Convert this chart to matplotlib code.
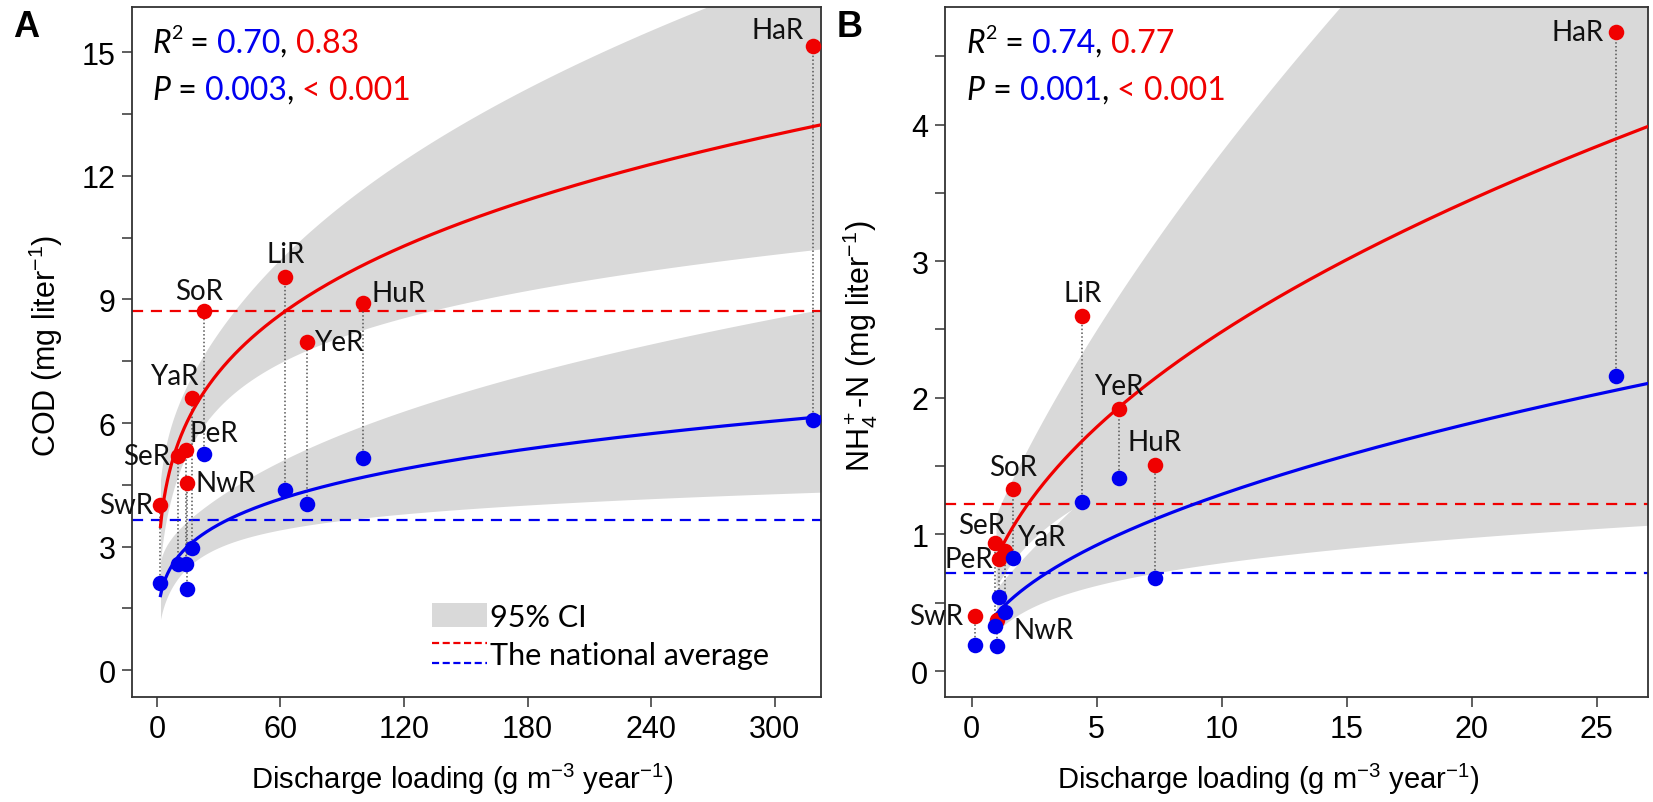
import numpy as np
import matplotlib
matplotlib.use('Agg')
import matplotlib.pyplot as plt
from matplotlib.transforms import offset_copy
from matplotlib.legend_handler import HandlerBase
from matplotlib.lines import Line2D
from matplotlib.patches import Patch

plt.rcParams['font.family'] = ['Liberation Sans', 'DejaVu Sans']
plt.rcParams['mathtext.fontset'] = 'custom'
plt.rcParams['mathtext.rm'] = 'Liberation Sans'
plt.rcParams['mathtext.it'] = 'Liberation Sans:italic'

# rivers, same order in both panels
rivers = ['SwR', 'SeR', 'PeR', 'NwR', 'YaR', 'SoR', 'LiR', 'YeR', 'HuR', 'HaR']

# panel A: COD
cod_x = [1.7, 10.2, 14.2, 14.6, 16.8, 23.0, 62.3, 72.7, 100.3, 318.6]
cod_red = [4.02, 5.19, 5.35, 4.54, 6.62, 8.71, 9.55, 7.96, 8.91, 15.15]
cod_blue = [2.11, 2.57, 2.57, 1.98, 2.97, 5.24, 4.38, 4.04, 5.16, 6.07]
cod_avg_red = 8.71
cod_avg_blue = 3.64

# panel B: NH4-N
nh_x = [0.12, 0.92, 1.08, 1.03, 1.32, 1.65, 4.43, 5.90, 7.33, 25.76]
nh_red = [0.40, 0.94, 0.82, 0.37, 0.88, 1.33, 2.60, 1.92, 1.51, 4.68]
nh_blue = [0.19, 0.33, 0.54, 0.18, 0.43, 0.83, 1.24, 1.41, 0.68, 2.16]
nh_avg_red = 1.22
nh_avg_blue = 0.72

stats_A = [('0.70', '0.83'), ('0.003', '< 0.001')]
stats_B = [('0.74', '0.77'), ('0.001', '< 0.001')]

T_CRIT = 2.306  # t(0.975, df=8)
RED = '#f00000'
BLUE = '#0000f0'
GREY = '#d9d9d9'
LABEL_FONT = 'Lato'

# label placement: (dx px, dy px, ha, va)
pos_A = {'SwR': (-7, 0, 'right', 'center'), 'SeR': (-8, 0, 'right', 'center'),
         'PeR': (3, 9, 'left', 'baseline'), 'NwR': (8, 0, 'left', 'center'),
         'YaR': (-17, 14, 'center', 'baseline'), 'SoR': (-5, 12, 'center', 'baseline'),
         'LiR': (0, 15, 'center', 'baseline'), 'YeR': (7, 0, 'left', 'center'),
         'HuR': (8, 10, 'left', 'center'), 'HaR': (-9, 8, 'right', 'baseline')}
pos_B = {'SwR': (-11, 0, 'right', 'center'), 'SeR': (-13, 10, 'center', 'baseline'),
         'PeR': (-5, 0, 'right', 'center'), 'NwR': (16, -10, 'left', 'center'),
         'YaR': (13, 14, 'left', 'center'), 'SoR': (0, 14, 'center', 'baseline'),
         'LiR': (0, 15, 'center', 'baseline'), 'YeR': (0, 15, 'center', 'baseline'),
         'HuR': (0, 15, 'center', 'baseline'), 'HaR': (-12, 0, 'right', 'center')}


def power_fit(x, y, xg):
    lx, ly = np.log(x), np.log(y)
    n = len(lx)
    b, a = np.polyfit(lx, ly, 1)
    res = ly - (a + b * lx)
    s = np.sqrt(np.sum(res ** 2) / (n - 2))
    sxx = np.sum((lx - lx.mean()) ** 2)
    lg = np.log(xg)
    se = s * np.sqrt(1 / n + (lg - lx.mean()) ** 2 / sxx)
    fit = a + b * lg
    return np.exp(fit), np.exp(fit - T_CRIT * se), np.exp(fit + T_CRIT * se)


def text_width(ax, s, r, **kw):
    t = ax.text(0, 0, '|' + s + '|', **kw)
    w1 = t.get_window_extent(r).width
    t.set_text('||')
    w0 = t.get_window_extent(r).width
    t.remove()
    return w1 - w0


def rich_text(ax, x, y, parts, size):
    r = ax.figure.canvas.get_renderer()
    dx = 0
    for s, c, style, rise, scale in parts:
        kw = dict(fontsize=size * scale, fontfamily=LABEL_FONT, fontstyle=style, color=c)
        tr = offset_copy(ax.transAxes, x=dx, y=rise, units='dots')
        ax.text(x, y, s, transform=tr, va='baseline', ha='left', **kw)
        dx += text_width(ax, s, r, **kw)


def stat_lines(ax, x, stats):
    (r_b, r_r), (p_b, p_r) = stats
    rich_text(ax, x, 0.935, [('R', 'black', 'italic', 0, 1), ('2', 'black', 'normal', 14, 0.62),
                              (' = ', 'black', 'normal', 0, 1), (r_b, BLUE, 'normal', 0, 1),
                              (', ', 'black', 'normal', 0, 1), (r_r, RED, 'normal', 0, 1)], 23)
    rich_text(ax, x, 0.867, [('P', 'black', 'italic', 0, 1), (' = ', 'black', 'normal', 0, 1),
                              (p_b, BLUE, 'normal', 0, 1), (', ', 'black', 'normal', 0, 1),
                              (p_r, RED, 'normal', 0, 1)], 23)


class TwoDashes(HandlerBase):
    def create_artists(self, legend, orig_handle, xdescent, ydescent,
                       width, height, fontsize, trans):
        out = []
        for i, ln in enumerate(orig_handle):
            yy = height * (0.95 - 0.85 * i) - ydescent
            l = Line2D([-xdescent, -xdescent + width], [yy, yy], color=ln.get_color(),
                       lw=ln.get_linewidth(), dashes=(3.2, 1.6))
            l.set_transform(trans)
            out.append(l)
        return out


def panel(ax, x, red, blue, avg_red, avg_blue, xlim, ylim, curve_start, pos):
    x = np.array(x); red = np.array(red); blue = np.array(blue)
    xg = np.geomspace(curve_start, xlim[1], 400)
    for y, c in [(red, RED), (blue, BLUE)]:
        fit, lo, hi = power_fit(x, y, xg)
        ax.fill_between(xg, lo, hi, color=GREY, lw=0, zorder=1)
        ax.plot(xg, fit, color=c, lw=2.3, zorder=3)
    ax.axhline(avg_red, color=RED, lw=1.6, dashes=(5, 3.5), zorder=2)
    ax.axhline(avg_blue, color=BLUE, lw=1.6, dashes=(5, 3.5), zorder=2)
    ax.vlines(x, blue, red, colors='#555555', linestyles=(0, (1, 1.5)), lw=1.1, zorder=2)
    ax.scatter(x, red, s=125, color=RED, lw=0, zorder=4)
    ax.scatter(x, blue, s=125, color=BLUE, lw=0, zorder=4)
    for name, xi, yi in zip(rivers, x, red):
        dx, dy, ha, va = pos[name]
        ax.annotate(name, (xi, yi), xytext=(dx * 0.72, dy * 0.72), textcoords='offset points',
                    ha=ha, va=va, fontsize=20, fontfamily=LABEL_FONT, color='#111111', zorder=5)
    ax.set_xlim(xlim)
    ax.set_ylim(ylim)
    for sp in ax.spines.values():
        sp.set_color('#333333')
        sp.set_linewidth(1.3)
    ax.tick_params(direction='out', length=7, width=1.1, color='#333333',
                   labelsize=22, pad=5)


fig = plt.figure(figsize=(16.53, 8.03), dpi=100)
axA = fig.add_axes([0.0799, 0.1308, 0.4168, 0.8592])
axB = fig.add_axes([0.5717, 0.1308, 0.4253, 0.8592])

panel(axA, cod_x, cod_red, cod_blue, cod_avg_red, cod_avg_blue,
      (-12.1, 322.6), (-0.65, 16.1), cod_x[0], pos_A)
panel(axB, nh_x, nh_red, nh_blue, nh_avg_red, nh_avg_blue,
      (-1.06, 27.06), (-0.19, 4.86), 1.0, pos_B)

axA.set_xticks(np.arange(0, 301, 60))
yt = np.arange(0, 15.1, 1.5)
axA.set_yticks(yt)
axA.set_yticklabels([f'{v:g}' if v % 3 == 0 else '' for v in yt])
axB.set_xticks(np.arange(0, 26, 5))
yt = np.arange(0, 4.6, 0.5)
axB.set_yticks(yt)
axB.set_yticklabels([f'{v:g}' if v % 1 == 0 else '' for v in yt])

xlab = 'Discharge loading (g m$^{-3}$ year$^{-1}$)'
axA.set_xlabel(xlab, fontsize=21)
axB.set_xlabel(xlab, fontsize=21)
axA.xaxis.set_label_coords(0.48, -0.093)
axB.xaxis.set_label_coords(0.46, -0.093)
axA.set_ylabel('COD (mg liter$^{-1}$)', fontsize=22)
axB.set_ylabel('NH$_4^+$-N (mg liter$^{-1}$)', fontsize=22)
axA.yaxis.set_label_coords(-0.098, 0.51)
axB.yaxis.set_label_coords(-0.092, 0.51)

fig.canvas.draw()
stat_lines(axA, 0.029, stats_A)
stat_lines(axB, 0.031, stats_B)

fig.text(0.0079, 0.954, 'A', fontsize=26, fontweight='bold')
fig.text(0.5063, 0.954, 'B', fontsize=26, fontweight='bold')

h_ci = Patch(color=GREY, lw=0)
h_avg = (Line2D([], [], color=RED, lw=1.6), Line2D([], [], color=BLUE, lw=1.6))
axA.legend([h_ci, h_avg], ['95% CI', 'The national average'], loc='lower left',
           bbox_to_anchor=(0.395, 0.0), frameon=False, handler_map={tuple: TwoDashes()},
           handlelength=1.8, handleheight=0.8, handletextpad=0.1, labelspacing=0.35,
           prop={'family': LABEL_FONT, 'size': 22})

fig.savefig('out.png', dpi=100)
